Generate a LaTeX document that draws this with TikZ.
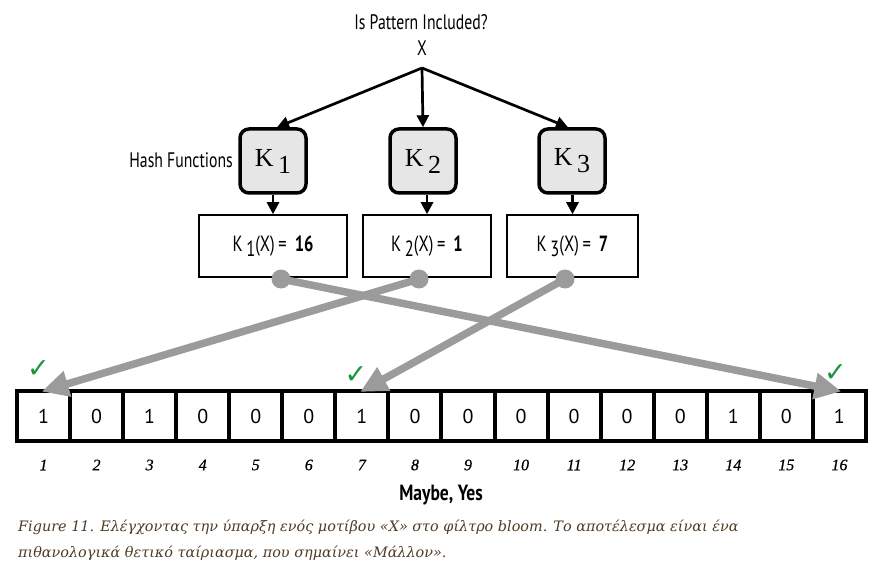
\documentclass[tikz,border=0pt]{standalone}
\usepackage{fontspec}
\usetikzlibrary{arrows.meta,calc}
\newfontfamily\condf[FakeStretch=0.75]{PT Sans}
\newfontfamily\condbf[FakeStretch=0.8]{PT Sans Bold}
\newfontfamily\sansf{PT Sans}
\newfontfamily\idxf[FakeBold=0.6]{Liberation Serif}
\newfontfamily\kf{Liberation Serif}
\newfontfamily\capf{DejaVu Serif}
\newfontfamily\symf{DejaVu Sans}
\definecolor{arrgray}{RGB}{155,155,155}
\definecolor{kfill}{RGB}{230,230,230}
\definecolor{chk}{RGB}{25,150,60}
\definecolor{capc}{RGB}{80,60,38}
\tikzset{
  lbl/.style={font=\condf\fontsize{21}{23}\selectfont, inner sep=0pt},
  hashbox/.style={draw, line width=3.5pt, rounded corners=9pt, fill=kfill, minimum width=66pt, minimum height=64pt, inner sep=0pt, font=\kf\fontsize{26}{28}\selectfont},
  resbox/.style={draw, line width=1.5pt, minimum height=62pt, inner sep=0pt, font=\condf\fontsize{22}{24}\selectfont},
  cellbox/.style={draw, line width=4pt, minimum width=53.06pt, minimum height=50pt, inner sep=0pt, outer sep=0pt, font=\sansf\fontsize{20}{22}\selectfont},
  idx/.style={font=\idxf\itshape\fontsize{16}{18}\selectfont, inner sep=0pt},
  blackarr/.style={line width=2.7pt, -{Triangle[length=12pt,width=12pt]}},
  grayarr/.style={draw=arrgray, line width=7.5pt, -{Triangle[length=27pt,width=25pt]}, shorten >=-2pt},
  graydot/.style={circle, fill=arrgray, minimum size=19pt, inner sep=0pt},
  chkmark/.style={font=\symf\fontsize{27}{27}\selectfont, text=chk, inner sep=0pt},
  capline/.style={font=\capf\itshape\fontsize{14.4}{16}\selectfont, text=capc, inner sep=0pt, anchor=west}
}
\begin{document}
\begin{tikzpicture}[x=1pt,y=-1pt]
\useasboundingbox[fill=white] (0,0) rectangle (886,572);
% title
\node[lbl] (title) at (421,22) {Is Pattern Included?};
\node[lbl] (xin) at (422,48) {X};
\coordinate (o) at (422,68);
% hash functions
\node[hashbox] (k1) at (273,161) {K\raisebox{-7pt}{\,1}};
\node[hashbox] (k2) at (423,161) {K\raisebox{-7pt}{\,2}};
\node[hashbox] (k3) at (572,161) {K\raisebox{-7pt}{\,3}};
\node[lbl, anchor=east] (hf) at (233,160) {Hash Functions};
% results
\node[resbox, minimum width=148pt] (r1) at (273,246) {K\raisebox{-5pt}{\,1}(X)\,=\, \textbf{16}};
\node[resbox, minimum width=128pt] (r2) at (427,246) {K\raisebox{-5pt}{\,2}(X)\,=\, \textbf{1}};
\node[resbox, minimum width=131pt] (r3) at (572.5,246) {K\raisebox{-5pt}{\,3}(X)\,=\, \textbf{7}};
% black arrows
\draw[blackarr] (o) -- ([xshift=4pt]k1.north);
\draw[blackarr] (o) -- (k2.north);
\draw[blackarr] (o) -- ([xshift=-4pt]k3.north);
\draw[blackarr] (k1.south -| r1.north) -- (r1.north);
\draw[blackarr] (k2.south -| r2.north) -- (r2.north);
\draw[blackarr] (k3.south -| r3.north) -- (r3.north);
% cells
\foreach \i/\v in {1/1,2/0,3/1,4/0,5/0,6/0,7/1,8/0,9/0,10/0,11/0,12/0,13/0,14/1,15/0,16/1}{
  \node[cellbox] (c\i) at ({17+53.06*(\i-0.5)},416) {\v};
  \node[idx] (n\i) at ({17+53.06*(\i-0.5)},465) {\i};
}
% dots
\node[graydot] (d1) at (281,279) {};
\node[graydot] (d2) at (419,279) {};
\node[graydot] (d3) at (565,279) {};
% gray arrows
\draw[grayarr] (d1.center) -- (c16.north);
\draw[grayarr] (d2.center) -- (c1.north);
\draw[grayarr] (d3.center) -- (c7.north);
% checks
\node[chkmark] (ch1) at ([xshift=-5pt,yshift=22pt]c1.north) {✓};
\node[chkmark] (ch7) at ([xshift=-6pt,yshift=16pt]c7.north) {✓};
\node[chkmark] (ch16) at ([xshift=-4pt,yshift=18pt]c16.north) {✓};
% result text
\node[inner sep=0pt, font=\condbf\fontsize{22}{24}\selectfont] (res) at (441,495) {Maybe, Yes};
% caption
\node[capline] (cap1) at (18,527) {Figure 11. Ελέγχοντας την ύπαρξη ενός μοτίβου «X» στο φίλτρο bloom. Το αποτέλεσμα είναι ένα};
\node[capline] (cap2) at (18,553) {πιθανολογικά θετικό ταίριασμα, που σημαίνει «Μάλλον».};
\end{tikzpicture}
\end{document}
